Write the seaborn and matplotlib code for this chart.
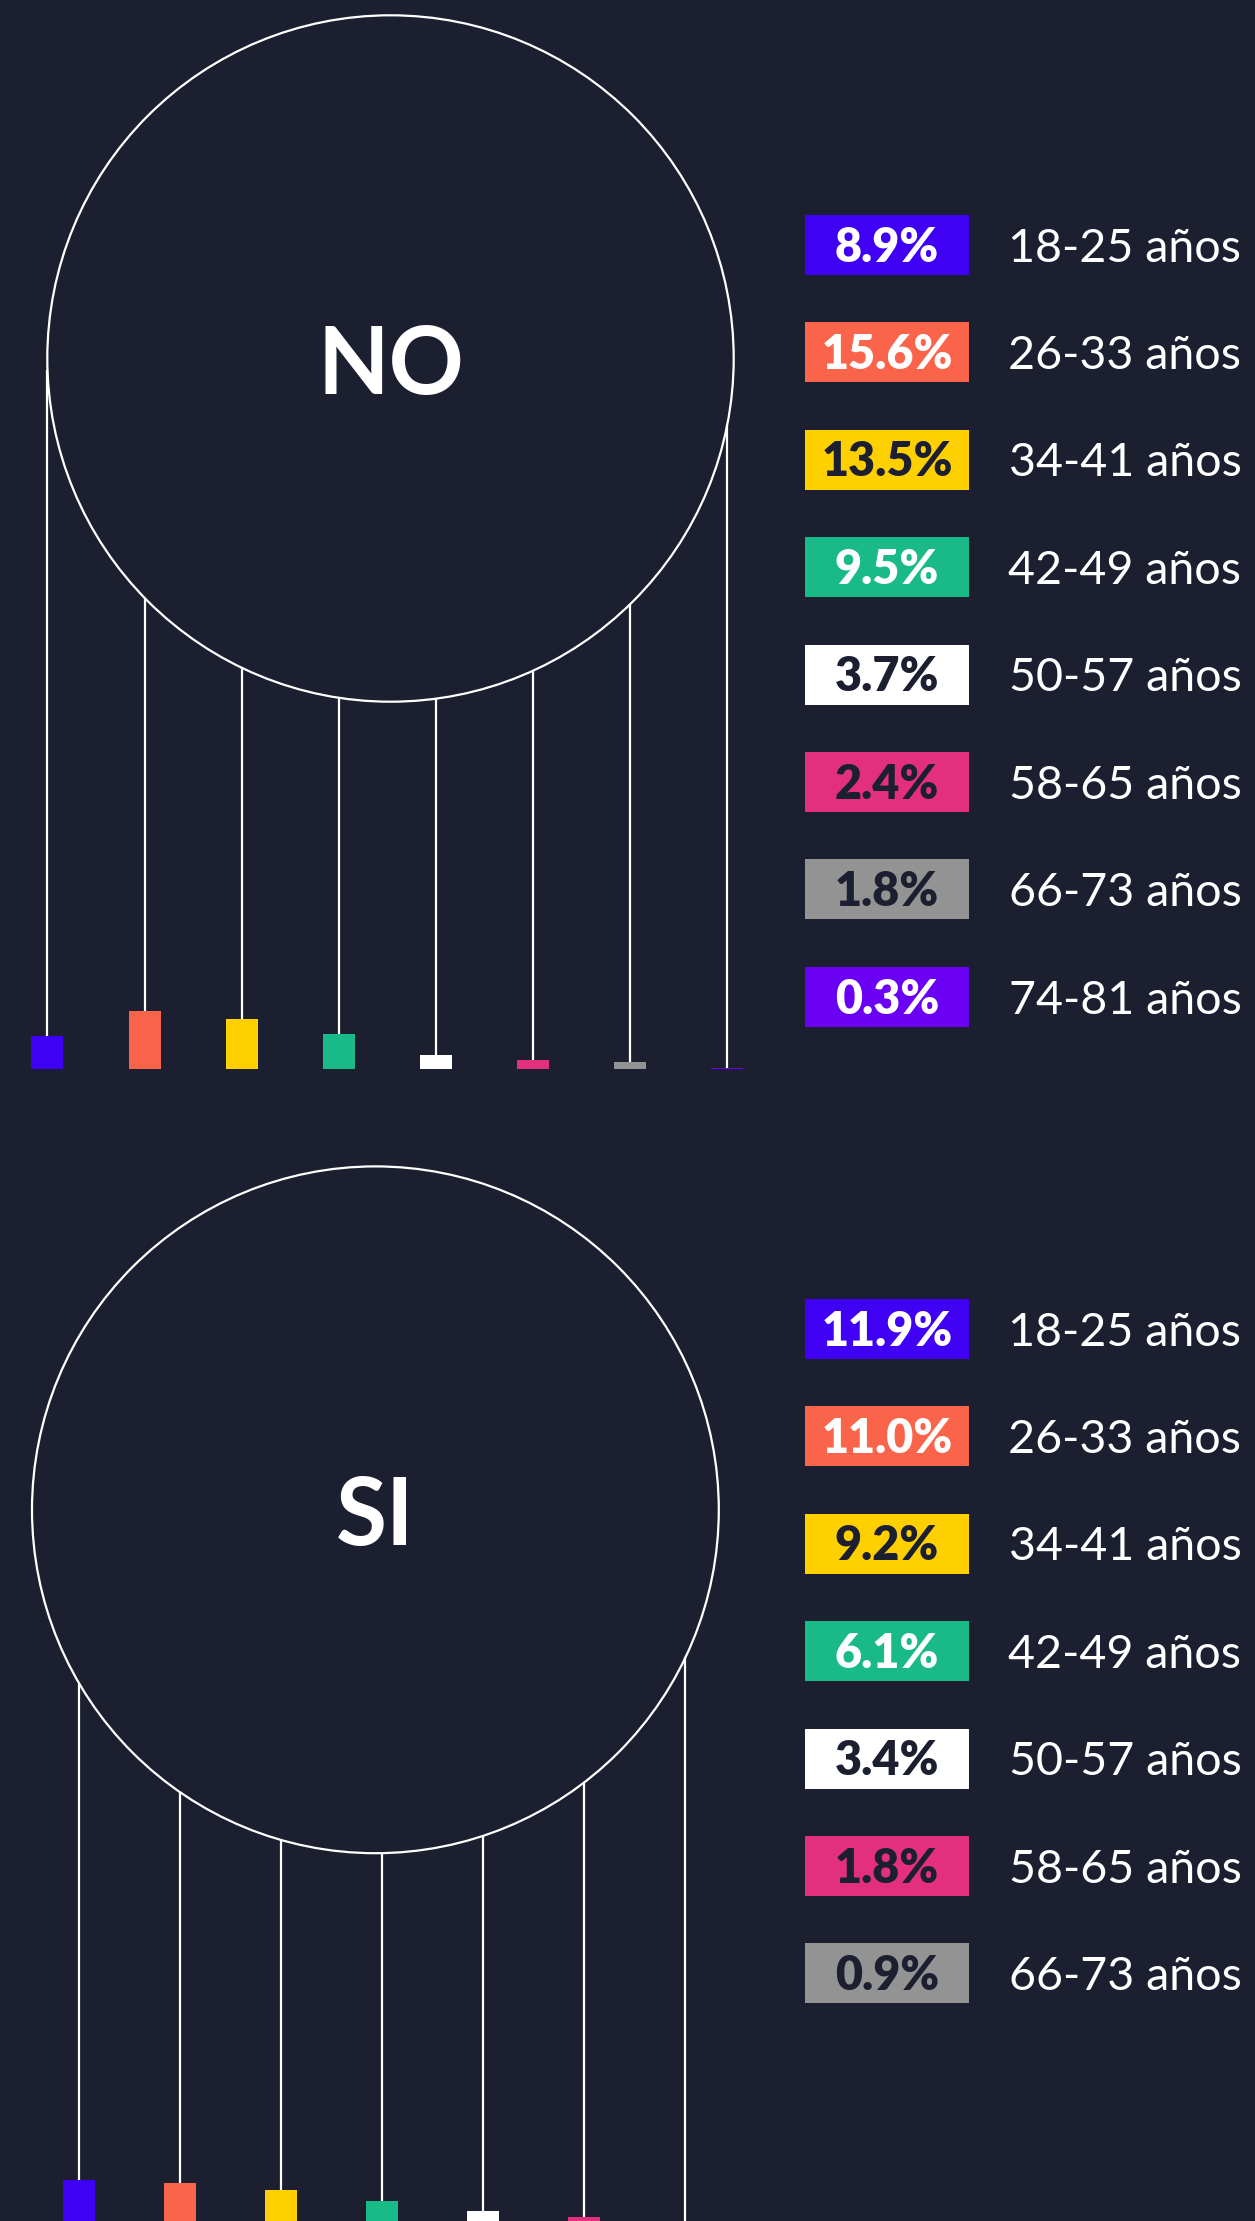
import numpy as np
import pandas as pd
import matplotlib
matplotlib.use("Agg")
import matplotlib.pyplot as plt
import seaborn as sns
from matplotlib.patches import Circle, Rectangle

# ---- data -------------------------------------------------------------
age_groups_no = ["18-25 años", "26-33 años", "34-41 años", "42-49 años",
                 "50-57 años", "58-65 años", "66-73 años", "74-81 años"]
pct_no = [8.9, 15.6, 13.5, 9.5, 3.7, 2.4, 1.8, 0.3]

age_groups_si = ["18-25 años", "26-33 años", "34-41 años", "42-49 años",
                 "50-57 años", "58-65 años", "66-73 años"]
pct_si = [11.9, 11.0, 9.2, 6.1, 3.4, 1.8, 0.9]

group_titles = ["NO", "SI"]

# ---- style ------------------------------------------------------------
BG = "#1C1F30"
group_colors = ["#3F00F4", "#FA644B", "#FFD000", "#1ABA88",
                "#FFFFFF", "#E3307E", "#939393", "#6A00F4"]
dark_label = [False, False, True, False, True, True, True, False]

W, H, DPI = 1255, 2221, 100
PX_PER_PT = 3.72          # pixels per percentage point
BAR_W_PX = 32
LINE_LW = 1.6

sns.set_theme(style="white")
plt.rcParams["font.family"] = ["Lato", "DejaVu Sans"]

fig = plt.figure(figsize=(W / DPI, H / DPI), dpi=DPI, facecolor=BG)
bg = fig.add_axes([0, 0, 1, 1])
bg.set_xlim(0, W)
bg.set_ylim(H, 0)
bg.axis("off")
bg.set_facecolor(BG)

panels = [
    dict(labels=age_groups_no, values=pct_no, title=group_titles[0],
         cx=390.5, cy=358.5, r=343.2, first=47.5, step=97.1,
         base=1069, leg_y0=245, title_base=394),
    dict(labels=age_groups_si, values=pct_si, title=group_titles[1],
         cx=375.4, cy=1509.8, r=343.4, first=79.5, step=101.0,
         base=2224, leg_y0=1329, title_base=1545),
]

LEG_STEP = 107.4
BOX_X, BOX_W, BOX_H = 805, 164, 60
LABEL_CX = 1125
CAP_HALF = 16.7

for p in panels:
    n = len(p["values"])
    colors = group_colors[:n]

    # outline circle with group title
    bg.add_patch(Circle((p["cx"], p["cy"]), p["r"], fill=False,
                        ec="white", lw=LINE_LW, zorder=2))
    bg.text(p["cx"], p["title_base"], p["title"], ha="center", va="baseline",
            color="white", fontsize=67, fontweight="bold")

    # bar axes: one category slot per age group, y in percentage points
    top_px = p["cy"] - p["r"]
    left_px = p["first"] - p["step"] / 2
    ax = fig.add_axes([left_px / W, (H - p["base"]) / H,
                       n * p["step"] / W, (p["base"] - top_px) / H])
    df = pd.DataFrame({"grupo": p["labels"], "pct": p["values"]})
    sns.barplot(data=df, x="grupo", y="pct", hue="grupo", palette=colors,
                width=BAR_W_PX / p["step"], saturation=1, legend=False,
                linewidth=0, edgecolor="none", ax=ax, zorder=3)
    ax.set_xlim(-0.5, n - 0.5)
    ax.set_ylim(0, (p["base"] - top_px) / PX_PER_PT)
    ax.axis("off")
    ax.patch.set_alpha(0)

    # hanging strings from circle down to each bar
    for i, v in enumerate(p["values"]):
        x_px = p["first"] + i * p["step"]
        y_px = p["cy"] + np.sqrt(max(p["r"] ** 2 - (x_px - p["cx"]) ** 2, 0))
        y_top = (p["base"] - y_px) / PX_PER_PT
        ax.vlines(i, v, y_top, color="white", lw=LINE_LW, zorder=2)

    # legend rows
    for i, (lab, v) in enumerate(zip(p["labels"], p["values"])):
        yc = p["leg_y0"] + i * LEG_STEP
        bg.add_patch(Rectangle((BOX_X, yc - BOX_H / 2), BOX_W, BOX_H,
                               facecolor=colors[i], edgecolor="none"))
        bg.text(BOX_X + BOX_W / 2, yc + CAP_HALF, f"{v:.1f}%",
                ha="center", va="baseline", fontsize=33.6, fontweight="heavy",
                color=BG if dark_label[i] else "white")
        bg.text(LABEL_CX, yc + CAP_HALF, lab, ha="center", va="baseline",
                fontsize=33.6, color="white")

fig.savefig("out.png", dpi=DPI, facecolor=BG)
